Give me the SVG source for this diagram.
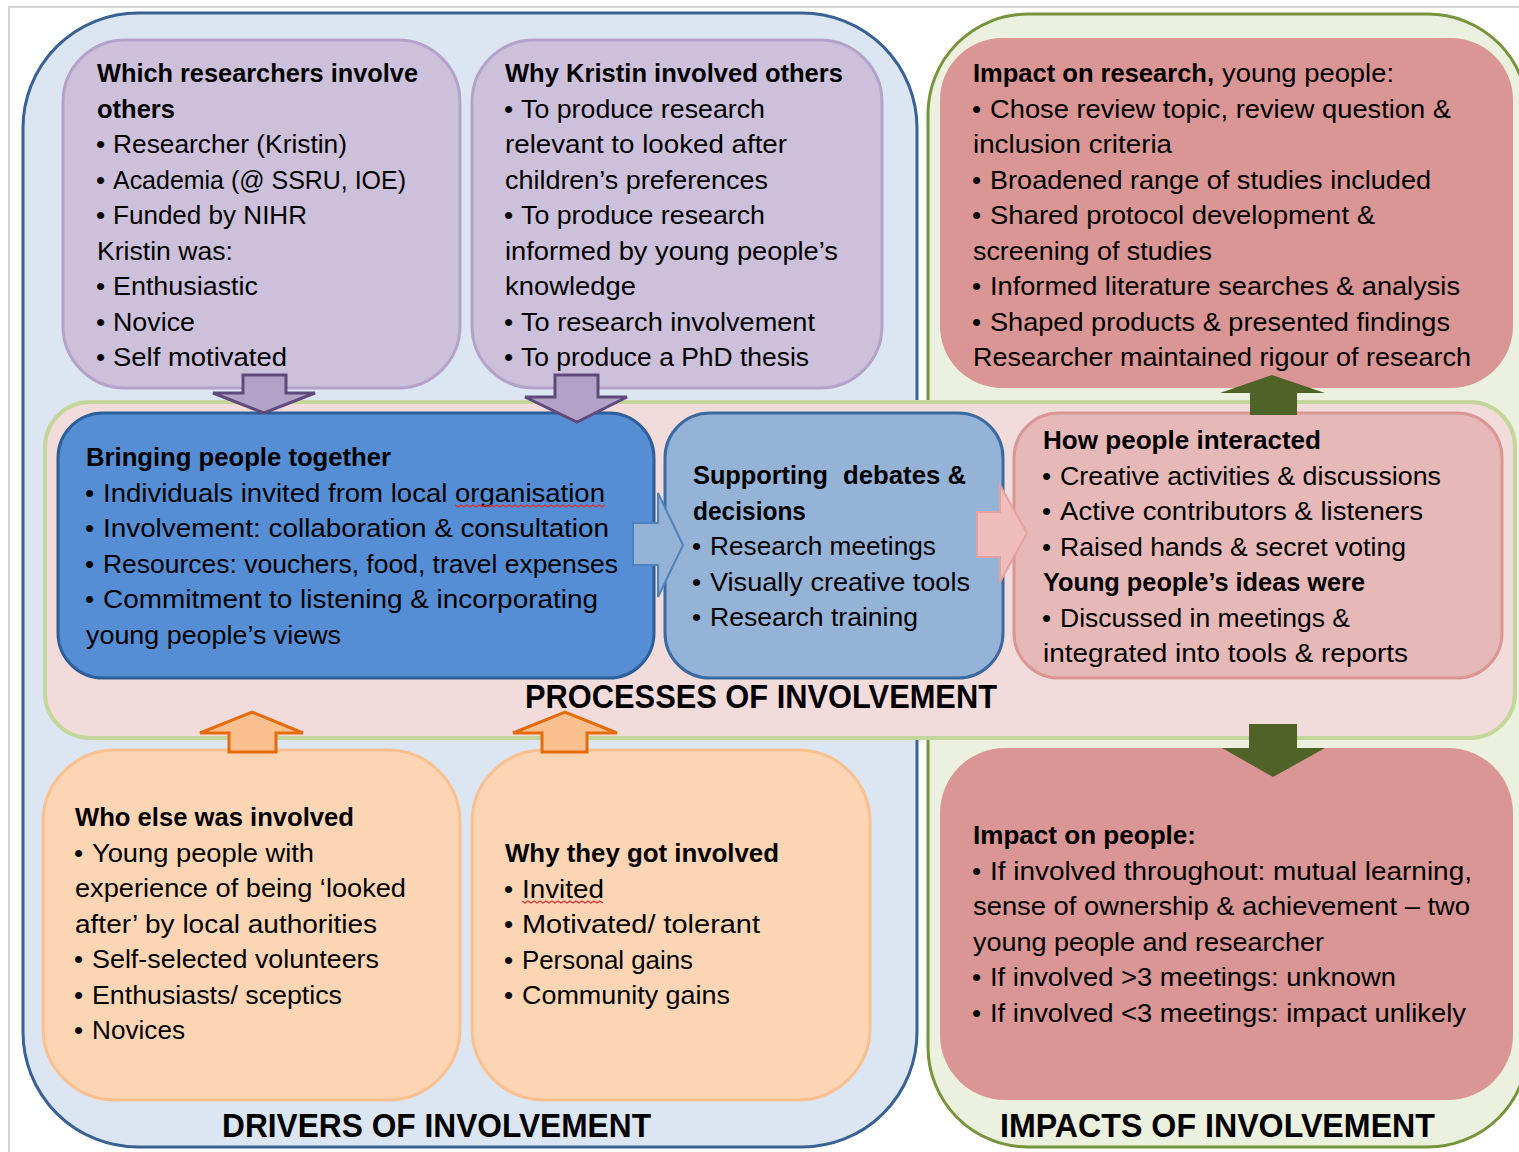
<svg xmlns="http://www.w3.org/2000/svg" width="1519" height="1152" viewBox="0 0 1519 1152">
<style>
text{font-family:"Liberation Sans",Arial,sans-serif;font-size:25px;fill:#000}
.b{font-weight:bold}
.t{font-weight:bold;font-size:33px}
.bu{font-size:26px}
.pur{fill:#CCC0DA;stroke:#B4A3C8;stroke-width:3}
.org{fill:#FCD5B5;stroke:#FAC090;stroke-width:3}
.red{fill:#D99694}
.parr{fill:#B3A2C7;stroke:#604A7B;stroke-width:3;stroke-linejoin:miter}
.oarr{fill:#FAC090;stroke:#E46C0A;stroke-width:3}
.garr{fill:#4F6228}
.sq{fill:none;stroke:#E03030;stroke-width:1.2}
</style>
<rect width="1519" height="1152" fill="#fff"/>
<path d="M9,1152 V7 H1519" fill="none" stroke="#D4D4D4" stroke-width="2"/>

<g id="panel-drivers">
<rect x="23" y="13" width="894" height="1134" rx="115" fill="#DCE6F2" stroke="#3A6194" stroke-width="3"/>
<text class="t" x="222" y="1137" textLength="429" lengthAdjust="spacingAndGlyphs">DRIVERS OF INVOLVEMENT</text>
</g>
<g id="panel-impacts">
<rect x="928" y="14" width="600" height="1133" rx="100" fill="#EBF1DE" stroke="#77933C" stroke-width="3"/>
<text class="t" x="1000" y="1137" textLength="435" lengthAdjust="spacingAndGlyphs">IMPACTS OF INVOLVEMENT</text>
</g>
<g id="panel-processes">
<rect x="45" y="402" width="1470" height="336" rx="45" fill="#F2DCDB" stroke="#C3D69B" stroke-width="4"/>
<text class="t" x="525" y="708" textLength="472" lengthAdjust="spacingAndGlyphs">PROCESSES OF INVOLVEMENT</text>
</g>

<g id="which-researchers">
<rect class="pur" x="63" y="40" width="397" height="348" rx="62"/>
<text class="b" x="97" y="82" textLength="321" lengthAdjust="spacingAndGlyphs">Which researchers involve</text>
<text class="b" x="97" y="117.5" textLength="78" lengthAdjust="spacingAndGlyphs">others</text>
<text class="bu" x="96" y="153">•</text><text x="113" y="153" textLength="234" lengthAdjust="spacingAndGlyphs">Researcher (Kristin)</text>
<text class="bu" x="96" y="188.5">•</text><text x="113" y="188.5" textLength="293" lengthAdjust="spacingAndGlyphs">Academia (@ SSRU, IOE)</text>
<text class="bu" x="96" y="224">•</text><text x="113" y="224" textLength="194" lengthAdjust="spacingAndGlyphs">Funded by NIHR</text>
<text x="97" y="259.5" textLength="136" lengthAdjust="spacingAndGlyphs">Kristin was:</text>
<text class="bu" x="96" y="295">•</text><text x="113" y="295" textLength="145" lengthAdjust="spacingAndGlyphs">Enthusiastic</text>
<text class="bu" x="96" y="330.5">•</text><text x="113" y="330.5" textLength="82" lengthAdjust="spacingAndGlyphs">Novice</text>
<text class="bu" x="96" y="366">•</text><text x="113" y="366" textLength="174" lengthAdjust="spacingAndGlyphs">Self motivated</text>
</g>

<g id="why-kristin">
<rect class="pur" x="472" y="40" width="410" height="348" rx="62"/>
<text class="b" x="505" y="82" textLength="338" lengthAdjust="spacingAndGlyphs">Why Kristin involved others</text>
<text class="bu" x="504" y="117.5">•</text><text x="521" y="117.5" textLength="244" lengthAdjust="spacingAndGlyphs">To produce research</text>
<text x="505" y="153" textLength="282" lengthAdjust="spacingAndGlyphs">relevant to looked after</text>
<text x="505" y="188.5" textLength="263" lengthAdjust="spacingAndGlyphs">children’s preferences</text>
<text class="bu" x="504" y="224">•</text><text x="521" y="224" textLength="244" lengthAdjust="spacingAndGlyphs">To produce research</text>
<text x="505" y="259.5" textLength="333" lengthAdjust="spacingAndGlyphs">informed by young people’s</text>
<text x="505" y="295" textLength="131" lengthAdjust="spacingAndGlyphs">knowledge</text>
<text class="bu" x="504" y="330.5">•</text><text x="521" y="330.5" textLength="294" lengthAdjust="spacingAndGlyphs">To research involvement</text>
<text class="bu" x="504" y="366">•</text><text x="521" y="366" textLength="288" lengthAdjust="spacingAndGlyphs">To produce a PhD thesis</text>
</g>

<g id="impact-research">
<rect class="red" x="940" y="38" width="573" height="350" rx="62"/>
<text class="b" x="973" y="82" textLength="241" lengthAdjust="spacingAndGlyphs">Impact on research,</text><text x="1222" y="82" textLength="172" lengthAdjust="spacingAndGlyphs">young people:</text>
<text class="bu" x="972" y="117.5">•</text><text x="990" y="117.5" textLength="461" lengthAdjust="spacingAndGlyphs">Chose review topic, review question &amp;</text>
<text x="973" y="153" textLength="199" lengthAdjust="spacingAndGlyphs">inclusion criteria</text>
<text class="bu" x="972" y="188.5">•</text><text x="990" y="188.5" textLength="441" lengthAdjust="spacingAndGlyphs">Broadened range of studies included</text>
<text class="bu" x="972" y="224">•</text><text x="990" y="224" textLength="385" lengthAdjust="spacingAndGlyphs">Shared protocol development &amp;</text>
<text x="973" y="259.5" textLength="239" lengthAdjust="spacingAndGlyphs">screening of studies</text>
<text class="bu" x="972" y="295">•</text><text x="990" y="295" textLength="470" lengthAdjust="spacingAndGlyphs">Informed literature searches &amp; analysis</text>
<text class="bu" x="972" y="330.5">•</text><text x="990" y="330.5" textLength="460" lengthAdjust="spacingAndGlyphs">Shaped products &amp; presented findings</text>
<text x="973" y="366" textLength="498" lengthAdjust="spacingAndGlyphs">Researcher maintained rigour of research</text>
</g>

<g id="bringing-people">
<rect x="58" y="413" width="596" height="265" rx="45" fill="#558ED5" stroke="#2F5F98" stroke-width="3"/>
<text class="b" x="86" y="466" textLength="305" lengthAdjust="spacingAndGlyphs">Bringing people together</text>
<text class="bu" x="85" y="501.5">•</text><text x="103" y="501.5" textLength="502" lengthAdjust="spacingAndGlyphs">Individuals invited from local organisation</text>
<path class="sq" d="M455,505 l3,2 3,-2 3,2 3,-2 3,2 3,-2 3,2 3,-2 3,2 3,-2 3,2 3,-2 3,2 3,-2 3,2 3,-2 3,2 3,-2 3,2 3,-2 3,2 3,-2 3,2 3,-2 3,2 3,-2 3,2 3,-2 3,2 3,-2 3,2 3,-2 3,2 3,-2 3,2 3,-2 3,2 3,-2 3,2 3,-2 3,2 3,-2 3,2 3,-2 3,2 3,-2 3,2 3,-2 3,2 3,-2"/>
<text class="bu" x="85" y="537">•</text><text x="103" y="537" textLength="506" lengthAdjust="spacingAndGlyphs">Involvement: collaboration &amp; consultation</text>
<text class="bu" x="85" y="572.5">•</text><text x="103" y="572.5" textLength="515" lengthAdjust="spacingAndGlyphs">Resources: vouchers, food, travel expenses</text>
<text class="bu" x="85" y="608">•</text><text x="103" y="608" textLength="495" lengthAdjust="spacingAndGlyphs">Commitment to listening &amp; incorporating</text>
<text x="86" y="643.5" textLength="255" lengthAdjust="spacingAndGlyphs">young people’s views</text>
</g>

<g id="supporting-debates">
<rect x="665" y="413" width="338" height="265" rx="45" fill="#95B3D7" stroke="#3B6AA0" stroke-width="3"/>
<text class="b" x="693" y="484" textLength="135" lengthAdjust="spacingAndGlyphs">Supporting</text><text class="b" x="843" y="484" textLength="123" lengthAdjust="spacingAndGlyphs">debates &amp;</text>
<text class="b" x="693" y="519.5" textLength="113" lengthAdjust="spacingAndGlyphs">decisions</text>
<text class="bu" x="692" y="555">•</text><text x="710" y="555" textLength="226" lengthAdjust="spacingAndGlyphs">Research meetings</text>
<text class="bu" x="692" y="590.5">•</text><text x="710" y="590.5" textLength="260" lengthAdjust="spacingAndGlyphs">Visually creative tools</text>
<text class="bu" x="692" y="626">•</text><text x="710" y="626" textLength="208" lengthAdjust="spacingAndGlyphs">Research training</text>
</g>

<g id="how-people-interacted">
<rect x="1014" y="413" width="488" height="265" rx="45" fill="#E6B9B8" stroke="#D99694" stroke-width="3"/>
<text class="b" x="1043" y="449" textLength="278" lengthAdjust="spacingAndGlyphs">How people interacted</text>
<text class="bu" x="1042" y="484.5">•</text><text x="1060" y="484.5" textLength="381" lengthAdjust="spacingAndGlyphs">Creative activities &amp; discussions</text>
<text class="bu" x="1042" y="520">•</text><text x="1060" y="520" textLength="363" lengthAdjust="spacingAndGlyphs">Active contributors &amp; listeners</text>
<text class="bu" x="1042" y="555.5">•</text><text x="1060" y="555.5" textLength="346" lengthAdjust="spacingAndGlyphs">Raised hands &amp; secret voting</text>
<text class="b" x="1043" y="591" textLength="322" lengthAdjust="spacingAndGlyphs">Young people’s ideas were</text>
<text class="bu" x="1042" y="626.5">•</text><text x="1060" y="626.5" textLength="290" lengthAdjust="spacingAndGlyphs">Discussed in meetings &amp;</text>
<text x="1043" y="662" textLength="365" lengthAdjust="spacingAndGlyphs">integrated into tools &amp; reports</text>
</g>

<g id="who-else">
<rect class="org" x="43" y="750" width="417" height="350" rx="72"/>
<text class="b" x="75" y="826" textLength="279" lengthAdjust="spacingAndGlyphs">Who else was involved</text>
<text class="bu" x="74" y="861.5">•</text><text x="92" y="861.5" textLength="222" lengthAdjust="spacingAndGlyphs">Young people with</text>
<text x="75" y="897" textLength="331" lengthAdjust="spacingAndGlyphs">experience of being ‘looked</text>
<text x="75" y="932.5" textLength="302" lengthAdjust="spacingAndGlyphs">after’ by local authorities</text>
<text class="bu" x="74" y="968">•</text><text x="92" y="968" textLength="287" lengthAdjust="spacingAndGlyphs">Self-selected volunteers</text>
<text class="bu" x="74" y="1003.5">•</text><text x="92" y="1003.5" textLength="250" lengthAdjust="spacingAndGlyphs">Enthusiasts/ sceptics</text>
<text class="bu" x="74" y="1039">•</text><text x="92" y="1039" textLength="93" lengthAdjust="spacingAndGlyphs">Novices</text>
</g>

<g id="why-they">
<rect class="org" x="472" y="750" width="398" height="350" rx="72"/>
<text class="b" x="505" y="862" textLength="274" lengthAdjust="spacingAndGlyphs">Why they got involved</text>
<text class="bu" x="504" y="897.5">•</text><text x="522" y="897.5" textLength="82" lengthAdjust="spacingAndGlyphs">Invited</text>
<path class="sq" d="M522,901 l3,2 3,-2 3,2 3,-2 3,2 3,-2 3,2 3,-2 3,2 3,-2 3,2 3,-2 3,2 3,-2 3,2 3,-2 3,2 3,-2 3,2 3,-2 3,2 3,-2 3,2 3,-2 3,2 3,-2 3,2"/>
<text class="bu" x="504" y="933">•</text><text x="522" y="933" textLength="238" lengthAdjust="spacingAndGlyphs">Motivated/ tolerant</text>
<text class="bu" x="504" y="968.5">•</text><text x="522" y="968.5" textLength="171" lengthAdjust="spacingAndGlyphs">Personal gains</text>
<text class="bu" x="504" y="1004">•</text><text x="522" y="1004" textLength="208" lengthAdjust="spacingAndGlyphs">Community gains</text>
</g>

<g id="impact-people">
<rect class="red" x="940" y="748" width="573" height="352" rx="65"/>
<text class="b" x="973" y="844" textLength="223" lengthAdjust="spacingAndGlyphs">Impact on people:</text>
<text class="bu" x="972" y="879.5">•</text><text x="990" y="879.5" textLength="482" lengthAdjust="spacingAndGlyphs">If involved throughout: mutual learning,</text>
<text x="973" y="915" textLength="497" lengthAdjust="spacingAndGlyphs">sense of ownership &amp; achievement – two</text>
<text x="973" y="950.5" textLength="351" lengthAdjust="spacingAndGlyphs">young people and researcher</text>
<text class="bu" x="972" y="986">•</text><text x="990" y="986" textLength="406" lengthAdjust="spacingAndGlyphs">If involved &gt;3 meetings: unknown</text>
<text class="bu" x="972" y="1021.5">•</text><text x="990" y="1021.5" textLength="476" lengthAdjust="spacingAndGlyphs">If involved &lt;3 meetings: impact unlikely</text>
</g>

<g id="connectors">
<polygon class="parr" points="243,375 286,375 286,393 315,393 264,413 213,393 243,393"/>
<polygon class="parr" points="555,375 598,375 598,397 627,397 577,422 525,397 555,397"/>
<polygon points="633,523 658,523 658,493 683,545 658,597 658,565 633,565" fill="#95B3D7" stroke="#4F81BD" stroke-width="2"/>
<polygon points="977,512 1000,512 1000,485 1027,533 1000,582 1000,557 977,557" fill="#EEBDBC" stroke="#E3A2A1" stroke-width="2"/>
<polygon class="garr" points="1250,415 1297,415 1297,393 1325,393 1272,375 1220,393 1250,393"/>
<polygon class="garr" points="1249,724 1297,724 1297,748 1325,748 1273,777 1222,748 1249,748"/>
<polygon class="oarr" points="229,752 276,752 276,733 303,733 252,712 200,733 229,733"/>
<polygon class="oarr" points="542,752 587,752 587,733 617,733 565,712 513,733 542,733"/>
</g>
</svg>
